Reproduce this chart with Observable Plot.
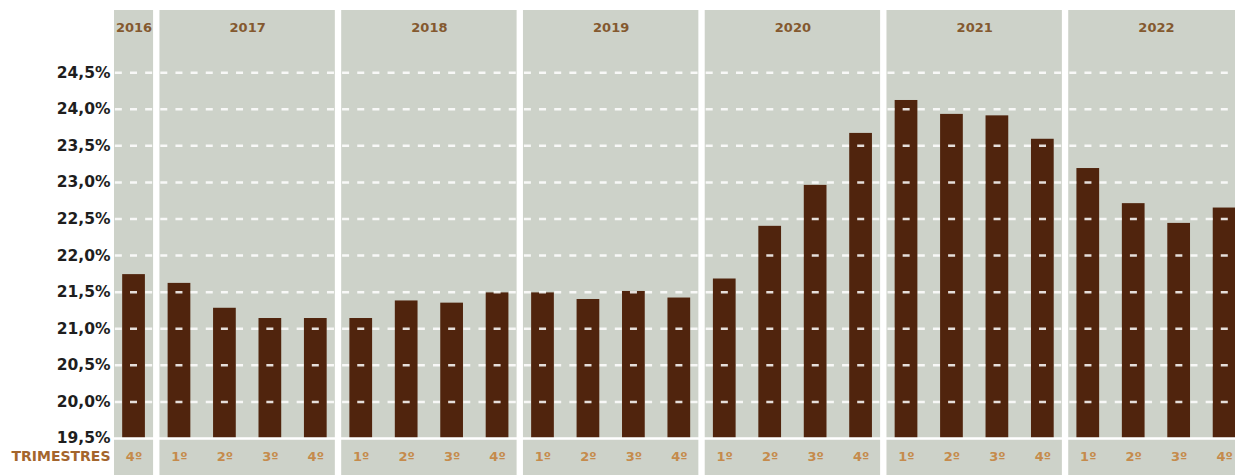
<!DOCTYPE html>
<html>
<head>
<meta charset="utf-8">
<script src="https://cdn.jsdelivr.net/npm/d3@7"></script>
<script src="https://cdn.jsdelivr.net/npm/@observablehq/plot@0.6"></script>
<style>
  html, body { margin: 0; padding: 0; background: #ffffff; overflow: hidden; }
  #chart svg { overflow: hidden; display: block; }
</style>
</head>
<body>
<div id="chart"></div>
<script>
// ---- data ----
const periodYears    = [2016, 2017, 2017, 2017, 2017, 2018, 2018, 2018, 2018, 2019, 2019, 2019, 2019, 2020, 2020, 2020, 2020, 2021, 2021, 2021, 2021, 2022, 2022, 2022, 2022];
const periodQuarters = [4, 1, 2, 3, 4, 1, 2, 3, 4, 1, 2, 3, 4, 1, 2, 3, 4, 1, 2, 3, 4, 1, 2, 3, 4];
const values         = [21.74, 21.62, 21.28, 21.14, 21.14, 21.14, 21.38, 21.35, 21.49, 21.49, 21.40, 21.51, 21.42, 21.68, 22.40, 22.96, 23.67, 24.12, 23.93, 23.91, 23.59, 23.19, 22.71, 22.44, 22.65];
const quarterLabels  = ["1º", "2º", "3º", "4º"];
const yTicks         = [19.5, 20.0, 20.5, 21.0, 21.5, 22.0, 22.5, 23.0, 23.5, 24.0, 24.5];
const axisTitle      = "TRIMESTRES";

// ---- derived tables ----
const bars = values.map((v, i) => ({
  i, value: v, year: periodYears[i], quarter: quarterLabels[periodQuarters[i] - 1]
}));
const years = Array.from(new Set(periodYears));
const panels = years.map(y => {
  const idx = bars.filter(b => b.year === y).map(b => b.i);
  return { year: String(y), first: d3.min(idx), last: d3.max(idx), mid: (d3.min(idx) + d3.max(idx)) / 2 };
});

const base = yTicks[0];
const panelHalf = 0.43;   // half panel width in band steps
const barHalf = 0.25;     // half bar width in band steps
const fontFam = "'DejaVu Sans', 'Open Sans', sans-serif";

const chart = Plot.plot({
  width: 1235,
  height: 475,
  marginLeft: 114,
  marginRight: 0,
  marginTop: 10,
  marginBottom: 37,
  style: { fontFamily: fontFam, background: "#ffffff", overflow: "hidden" },
  x: { type: "linear", domain: [-panelHalf, 24.24], axis: null },
  y: { domain: [base, 25.35], axis: null },
  marks: [
    // panel backgrounds per year
    Plot.rect(panels, {
      x1: d => d.first - panelHalf,
      x2: d => d.last + panelHalf,
      fill: "#cdd2c9",
      insetBottom: -37
    }),
    // bars
    Plot.rectY(bars, {
      x1: d => d.i - barHalf,
      x2: d => d.i + barHalf,
      y1: base,
      y2: "value",
      fill: "#50240d"
    }),
    // dashed white grid lines over everything
    Plot.ruleY(yTicks.slice(1), {
      stroke: "#ffffff",
      strokeWidth: 2.5,
      strokeOpacity: 0.85,
      strokeDasharray: "7,8.15",
      strokeDashoffset: -0.85
    }),
    // solid baseline
    Plot.ruleY([base], { stroke: "#ffffff", strokeWidth: 2.5 }),
    // y axis labels
    Plot.axisY({
      ticks: yTicks,
      label: null,
      tickSize: 0,
      tickPadding: 4,
      tickFormat: d => d.toFixed(1).replace(".", ",") + "%",
      fontSize: 15.5,
      fontWeight: "bold",
      fill: "#1e1e1e"
    }),
    // year labels
    Plot.text(panels, {
      x: "mid",
      text: "year",
      frameAnchor: "top",
      dy: 12,
      fontSize: 13,
      fontWeight: "bold",
      fill: "#84592f"
    }),
    // quarter labels
    Plot.text(bars, {
      x: "i",
      y: base,
      text: "quarter",
      dy: 18,
      fontSize: 13,
      fontWeight: "bold",
      fill: "#c58b4c"
    }),
    // axis title
    Plot.text([axisTitle], {
      x: -panelHalf,
      y: base,
      text: d => d,
      dy: 18,
      dx: -4,
      textAnchor: "end",
      fontSize: 14,
      fontWeight: "bold",
      fill: "#a4652c"
    })
  ]
});

document.getElementById("chart").appendChild(chart);
</script>
</body>
</html>
